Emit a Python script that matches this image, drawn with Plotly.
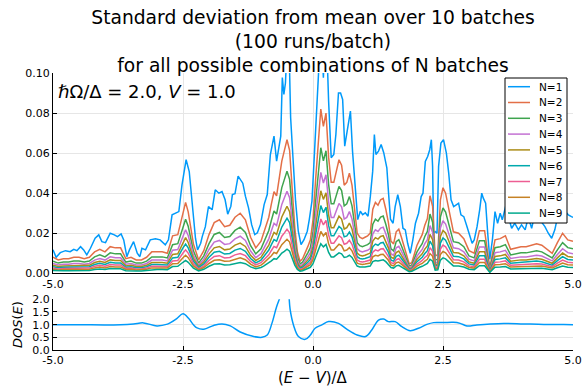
import plotly.graph_objects as go

FONT = "DejaVu Sans"

# ---------------- data (values in units of 1e-3) ----------------
E1 = [-5.00, -4.94, -4.86, -4.76, -4.67, -4.60, -4.54, -4.47, -4.41, -4.35, -4.28, -4.19, -4.12, -4.06, -3.99,
      -3.90, -3.82, -3.76, -3.69, -3.64, -3.58, -3.53, -3.45, -3.38, -3.33, -3.29, -3.22, -3.13, -3.03, -2.94,
      -2.84, -2.78, -2.71, -2.65, -2.58, -2.52, -2.44, -2.38, -2.33, -2.26, -2.22, -2.16, -2.13, -2.07, -2.01,
      -1.94, -1.88, -1.81, -1.75, -1.69, -1.64, -1.58, -1.55, -1.50, -1.44, -1.39, -1.35, -1.30, -1.24, -1.18,
      -1.12, -1.07, -1.01, -0.94, -0.88, -0.82, -0.78, -0.75, -0.70, -0.65, -0.62, -0.59, -0.56, -0.53, -0.49,
      -0.46, -0.43, -0.385, -0.335, -0.283, -0.23, -0.173, -0.11, -0.07, -0.02, 0.03, 0.08, 0.11, 0.15, 0.20,
      0.24, 0.27, 0.30, 0.35, 0.40, 0.44, 0.49, 0.53, 0.57, 0.61, 0.67, 0.72, 0.76, 0.815, 0.86,
      0.91, 0.955, 1.006, 1.058, 1.103, 1.148, 1.18, 1.21, 1.26, 1.31, 1.36, 1.42, 1.455, 1.49, 1.54,
      1.58, 1.63, 1.68, 1.73, 1.775, 1.82, 1.87, 1.92, 1.97, 2.03, 2.08, 2.115, 2.16, 2.205, 2.245,
      2.276, 2.30, 2.32, 2.35, 2.385, 2.415, 2.46, 2.51, 2.565, 2.61, 2.655, 2.705, 2.755, 2.80, 2.845,
      2.90, 2.95, 2.995, 3.06, 3.10, 3.155, 3.205, 3.245, 3.275, 3.32, 3.36, 3.40, 3.45, 3.50, 3.55,
      3.60, 3.64, 3.68, 3.72, 3.76, 3.82, 3.88, 3.95, 4.01, 4.08, 4.14, 4.205, 4.27, 4.36, 4.46,
      4.525, 4.59, 4.65, 4.72, 4.81, 4.91, 4.97, 5.00]
N1 = [11.7, 8.0, 10.3, 11.3, 10.8, 12.0, 11.3, 13.3, 11.7, 9.2, 12.5, 17.5, 19.2, 15.8, 15.3,
      20.0, 19.2, 18.3, 19.7, 16.7, 8.3, 11.7, 15.8, 10.0, 8.3, 12.5, 11.7, 16.7, 17.2, 16.7,
      14.2, 16.7, 29.2, 30.0, 30.8, 44.0, 56.7, 50.8, 36.7, 17.5, 11.7, 15.0, 18.3, 23.3, 33.3,
      31.7, 41.7, 40.0, 40.8, 36.7, 29.5, 33.5, 39.3, 39.8, 48.5, 46.8, 45.0, 38.5, 32.7, 24.3,
      19.3, 20.2, 24.3, 34.3, 39.3, 59.3, 65.2, 68.5, 56.0, 65.2, 68.5, 97.7, 89.3, 95.0, 118,
      112, 77.7, 57.7, 36.0, 21.0, 14.3, 16.8, 21, 27, 36, 61, 86, 105, 122, 97.7,
      125, 110, 86, 57.7, 59.3, 69.3, 90, 90, 86.8, 63.5, 73.5, 81, 61, 44.3, 26.8,
      31, 29.3, 30.2, 28.5, 38.5, 51, 69.3, 59.3, 61, 64.3, 60.2, 52.7, 39.3, 27, 25,
      33.3, 39.2, 33.3, 22.5, 21.7, 15, 10, 16.7, 25, 30, 38.3, 40, 55.8, 58.3, 61.7,
      66.7, 53.3, 20, 20.8, 20, 53.3, 65, 66.7, 60, 50, 36.7, 33.3, 34.2, 35, 29.2,
      28.3, 24.2, 20, 15, 16.7, 23.3, 31.7, 40, 37.5, 35, 20, 7, 16.7, 30.8, 25,
      30, 26.7, 30.8, 35, 28, 22.5, 25, 21.7, 24.2, 21.7, 28, 22.5, 30, 27, 23.3,
      20, 17.5, 21.7, 30, 32, 29.2, 28.3, 28]

E_LOW = [-5.0, -4.9, -4.8, -4.7, -4.6, -4.5, -4.4, -4.3, -4.2, -4.1, -4.0, -3.9, -3.8, -3.7, -3.6, -3.5,
         -3.4, -3.3, -3.2, -3.1, -3.0, -2.9, -2.8, -2.7, -2.6, -2.5, -2.45, -2.4, -2.3, -2.2, -2.1, -2.0,
         -1.9, -1.8, -1.7, -1.6, -1.5, -1.4, -1.3, -1.2, -1.1, -1.0,
         -0.95, -0.9, -0.85, -0.8, -0.75, -0.7, -0.65, -0.6, -0.55, -0.5, -0.45, -0.4, -0.35, -0.3,
         -0.25, -0.2, -0.15, -0.1, -0.05, 0.0, 0.05, 0.1, 0.15, 0.2, 0.25, 0.3, 0.35, 0.4, 0.45, 0.5,
         0.55, 0.6, 0.65, 0.7, 0.75, 0.8, 0.85, 0.9, 0.95, 1.0, 1.05, 1.1, 1.15, 1.2, 1.25, 1.3, 1.35,
         1.4, 1.45, 1.5, 1.55, 1.6, 1.65, 1.7, 1.75, 1.8, 1.85, 1.9, 1.95, 2.0, 2.05, 2.1, 2.15, 2.2,
         2.25, 2.3, 2.35, 2.4, 2.45, 2.5, 2.55, 2.6,
         2.7, 2.8, 2.9, 3.0, 3.1, 3.2, 3.3, 3.4, 3.5, 3.6, 3.7, 3.8, 3.9, 4.0, 4.1, 4.2, 4.3, 4.4, 4.5,
         4.6, 4.7, 4.8, 4.9, 5.0]

N2 = [8.0, 6.7, 7.3, 7.3, 8.0, 8.0, 7.3, 8.0, 10.7, 12.0, 10.7, 13.3, 12.7, 12.7, 7.3, 8.0, 6.7, 6.7, 8.0, 10.7,
      10.7, 10.7, 10.0, 18.7, 19.3, 30.7, 35.4, 30.7, 14.7, 6.7, 11.3, 19.3, 25.3, 26.7, 23.3, 24.0, 28.0, 30.0, 26.7, 18.0,
      12.7, 16.0,
      20.0, 24.7, 28.0, 34.7, 40.7, 38.7, 47.4, 56.0, 61.4, 66.7, 61.4, 43.4, 22.7, 10.7, 6.0, 7.3, 10.0, 13.3, 16.7, 26.7,
      46.7, 66.7, 82.0, 73.4, 80.0, 58.0, 45.4, 45.4, 50.7, 56.7, 54.0, 44.0, 45.4, 50.0, 44.0, 30.7, 20.0, 18.0, 17.3, 18.0,
      18.7, 20.0, 32.0, 35.4, 34.0, 36.7, 37.4, 32.0, 25.3, 16.0, 14.7, 20.7, 22.0, 18.0, 13.3, 8.0, 4.7, 5.3, 10.0, 14.0,
      16.7, 19.3, 24.0, 27.3, 38.7, 33.4, 8.7, 9.3, 36.7, 42.7, 40.0, 33.4,
      20.7, 20.0, 17.3, 11.3, 10.0, 21.3, 21.3, 2.7, 16.7, 17.3, 18.7, 12.0, 12.7, 13.3, 13.3, 14.0, 14.7, 14.0, 12.0, 10.0,
      15.3, 20.0, 16.7, 16.0]
N3 = [6.1, 5.1, 5.6, 5.6, 6.1, 6.1, 5.6, 6.1, 8.2, 9.2, 8.2, 10.2, 9.7, 9.7, 5.6, 6.1, 5.1, 5.1, 6.1, 8.2,
      8.2, 8.2, 7.7, 14.3, 14.8, 23.5, 27.0, 23.5, 11.2, 5.1, 8.7, 14.8, 19.4, 20.4, 17.9, 18.4, 21.4, 23.0, 20.4, 13.8,
      9.7, 12.2,
      15.3, 18.9, 21.4, 26.5, 31.1, 29.6, 36.2, 42.8, 46.9, 51.0, 46.9, 33.2, 17.3, 8.2, 4.6, 5.6, 7.7, 10.2, 12.8, 20.4,
      35.7, 51.0, 62.7, 56.1, 61.2, 44.4, 34.7, 34.7, 38.8, 43.4, 41.3, 33.7, 34.7, 38.3, 33.7, 23.5, 15.3, 13.8, 13.3, 13.8,
      14.3, 15.3, 24.5, 27.0, 26.0, 28.1, 28.6, 24.5, 19.4, 12.2, 11.2, 15.8, 16.8, 13.8, 10.2, 6.1, 3.6, 4.1, 7.7, 10.7,
      12.8, 14.8, 18.4, 20.9, 29.6, 25.5, 6.6, 7.1, 28.1, 32.6, 30.6, 25.5,
      15.8, 15.3, 13.3, 8.7, 7.7, 16.3, 16.3, 2.0, 12.8, 13.3, 14.3, 9.2, 9.7, 10.2, 10.2, 10.7, 11.2, 10.7, 9.2, 7.7,
      11.7, 15.3, 12.8, 12.2]
N4 = [4.9, 4.1, 4.5, 4.5, 4.9, 4.9, 4.5, 4.9, 6.6, 7.4, 6.6, 8.2, 7.8, 7.8, 4.5, 4.9, 4.1, 4.1, 4.9, 6.6,
      6.6, 6.6, 6.2, 11.5, 11.9, 18.9, 21.7, 18.9, 9.0, 4.1, 7.0, 11.9, 15.6, 16.4, 14.4, 14.8, 17.2, 18.5, 16.4, 11.1,
      7.8, 9.8,
      12.3, 15.2, 17.2, 21.3, 25.0, 23.8, 29.1, 34.4, 37.7, 41.0, 37.7, 26.7, 13.9, 6.6, 3.7, 4.5, 6.2, 8.2, 10.3, 16.4,
      28.7, 41.0, 50.4, 45.1, 49.2, 35.7, 27.9, 27.9, 31.2, 34.9, 33.2, 27.1, 27.9, 30.8, 27.1, 18.9, 12.3, 11.1, 10.7, 11.1,
      11.5, 12.3, 19.7, 21.7, 20.9, 22.6, 23.0, 19.7, 15.6, 9.8, 9.0, 12.7, 13.5, 11.1, 8.2, 4.9, 2.9, 3.3, 6.2, 8.6,
      10.3, 11.9, 14.8, 16.8, 23.8, 20.5, 5.3, 5.7, 22.6, 26.2, 24.6, 20.5,
      12.7, 12.3, 10.7, 7.0, 6.2, 13.1, 13.1, 1.6, 10.3, 10.7, 11.5, 7.4, 7.8, 8.2, 8.2, 8.6, 9.0, 8.6, 7.4, 6.2,
      9.4, 12.3, 10.3, 9.8]
N5 = [4.0, 3.4, 3.7, 3.7, 4.0, 4.0, 3.7, 4.0, 5.4, 6.0, 5.4, 6.7, 6.4, 6.4, 3.7, 4.0, 3.4, 3.4, 4.0, 5.4,
      5.4, 5.4, 5.0, 9.4, 9.7, 15.4, 17.8, 15.4, 7.4, 3.4, 5.7, 9.7, 12.7, 13.4, 11.7, 12.1, 14.1, 15.1, 13.4, 9.0,
      6.4, 8.0,
      10.1, 12.4, 14.1, 17.4, 20.4, 19.4, 23.8, 28.1, 30.8, 33.5, 30.8, 21.8, 11.4, 5.4, 3.0, 3.7, 5.0, 6.7, 8.4, 13.4,
      23.5, 33.5, 41.2, 36.9, 40.2, 29.1, 22.8, 22.8, 25.5, 28.5, 27.1, 22.1, 22.8, 25.1, 22.1, 15.4, 10.1, 9.0, 8.7, 9.0,
      9.4, 10.1, 16.1, 17.8, 17.1, 18.4, 18.8, 16.1, 12.7, 8.0, 7.4, 10.4, 11.1, 9.0, 6.7, 4.0, 2.3, 2.7, 5.0, 7.0,
      8.4, 9.7, 12.1, 13.7, 19.4, 16.8, 4.4, 4.7, 18.4, 21.4, 20.1, 16.8,
      10.4, 10.1, 8.7, 5.7, 5.0, 10.7, 10.7, 1.3, 8.4, 8.7, 9.4, 6.0, 6.4, 6.7, 6.7, 7.0, 7.4, 7.0, 6.0, 5.0,
      7.7, 10.1, 8.4, 8.0]
N6 = [3.3, 2.8, 3.0, 3.0, 3.3, 3.3, 3.0, 3.3, 4.4, 5.0, 4.4, 5.5, 5.2, 5.2, 3.0, 3.3, 2.8, 2.8, 3.3, 4.4,
      4.4, 4.4, 4.1, 7.7, 8.0, 12.7, 14.6, 12.7, 6.1, 2.8, 4.7, 8.0, 10.5, 11.0, 9.6, 9.9, 11.6, 12.4, 11.0, 7.4,
      5.2, 6.6,
      8.3, 10.2, 11.6, 14.3, 16.8, 16.0, 19.5, 23.1, 25.3, 27.5, 25.3, 17.9, 9.4, 4.4, 2.5, 3.0, 4.1, 5.5, 6.9, 11.0,
      19.3, 27.5, 33.8, 30.3, 33.0, 23.9, 18.7, 18.7, 20.9, 23.4, 22.3, 18.2, 18.7, 20.6, 18.2, 12.7, 8.3, 7.4, 7.2, 7.4,
      7.7, 8.3, 13.2, 14.6, 14.0, 15.1, 15.4, 13.2, 10.5, 6.6, 6.1, 8.5, 9.1, 7.4, 5.5, 3.3, 1.9, 2.2, 4.1, 5.8,
      6.9, 8.0, 9.9, 11.3, 16.0, 13.8, 3.6, 3.9, 15.1, 17.6, 16.5, 13.8,
      8.5, 8.3, 7.2, 4.7, 4.1, 8.8, 8.8, 1.1, 6.9, 7.2, 7.7, 5.0, 5.2, 5.5, 5.5, 5.8, 6.1, 5.8, 5.0, 4.1,
      6.3, 8.3, 6.9, 6.6]
N7 = [2.6, 2.2, 2.4, 2.4, 2.6, 2.6, 2.4, 2.6, 3.5, 4.0, 3.5, 4.4, 4.2, 4.2, 2.4, 2.6, 2.2, 2.2, 2.6, 3.5,
      3.5, 3.5, 3.3, 6.2, 6.4, 10.1, 11.7, 10.1, 4.8, 2.2, 3.7, 6.4, 8.4, 8.8, 7.7, 7.9, 9.2, 9.9, 8.8, 5.9,
      4.2, 5.3,
      6.6, 8.1, 9.2, 11.4, 13.4, 12.8, 15.6, 18.5, 20.2, 22.0, 20.2, 14.3, 7.5, 3.5, 2.0, 2.4, 3.3, 4.4, 5.5, 8.8,
      15.4, 22.0, 27.1, 24.2, 26.4, 19.1, 15.0, 15.0, 16.7, 18.7, 17.8, 14.5, 15.0, 16.5, 14.5, 10.1, 6.6, 5.9, 5.7, 5.9,
      6.2, 6.6, 10.6, 11.7, 11.2, 12.1, 12.3, 10.6, 8.4, 5.3, 4.8, 6.8, 7.3, 5.9, 4.4, 2.6, 1.5, 1.8, 3.3, 4.6,
      5.5, 6.4, 7.9, 9.0, 12.8, 11.0, 2.9, 3.1, 12.1, 14.1, 13.2, 11.0,
      6.8, 6.6, 5.7, 3.7, 3.3, 7.0, 7.0, 0.9, 5.5, 5.7, 6.2, 4.0, 4.2, 4.4, 4.4, 4.6, 4.8, 4.6, 4.0, 3.3,
      5.1, 6.6, 5.5, 5.3]
N8 = [2.0, 1.7, 1.9, 1.9, 2.0, 2.0, 1.9, 2.0, 2.7, 3.1, 2.7, 3.4, 3.2, 3.2, 1.9, 2.0, 1.7, 1.7, 2.0, 2.7,
      2.7, 2.7, 2.6, 4.8, 4.9, 7.8, 9.0, 7.8, 3.7, 1.7, 2.9, 4.9, 6.5, 6.8, 6.0, 6.1, 7.1, 7.7, 6.8, 4.6,
      3.2, 4.1,
      5.1, 6.3, 7.1, 8.8, 10.4, 9.9, 12.1, 14.3, 15.6, 17.0, 15.6, 11.1, 5.8, 2.7, 1.5, 1.9, 2.6, 3.4, 4.3, 6.8,
      11.9, 17.0, 20.9, 18.7, 20.4, 14.8, 11.6, 11.6, 12.9, 14.5, 13.8, 11.2, 11.6, 12.8, 11.2, 7.8, 5.1, 4.6, 4.4, 4.6,
      4.8, 5.1, 8.2, 9.0, 8.7, 9.4, 9.5, 8.2, 6.5, 4.1, 3.7, 5.3, 5.6, 4.6, 3.4, 2.0, 1.2, 1.4, 2.6, 3.6,
      4.3, 4.9, 6.1, 7.0, 9.9, 8.5, 2.2, 2.4, 9.4, 10.9, 10.2, 8.5,
      5.3, 5.1, 4.4, 2.9, 2.6, 5.4, 5.4, 0.7, 4.3, 4.4, 4.8, 3.1, 3.2, 3.4, 3.4, 3.6, 3.7, 3.6, 3.1, 2.6,
      3.9, 5.1, 4.3, 4.1]
N9 = [1.4, 1.2, 1.3, 1.3, 1.4, 1.4, 1.3, 1.4, 1.9, 2.2, 1.9, 2.4, 2.3, 2.3, 1.3, 1.4, 1.2, 1.2, 1.4, 1.9,
      1.9, 1.9, 1.8, 3.4, 3.5, 5.5, 6.4, 5.5, 2.6, 1.2, 2.0, 3.5, 4.6, 4.8, 4.2, 4.3, 5.0, 5.4, 4.8, 3.2,
      2.3, 2.9,
      3.6, 4.4, 5.0, 6.2, 7.3, 7.0, 8.5, 10.1, 11.0, 12.0, 11.0, 7.8, 4.1, 1.9, 1.1, 1.3, 1.8, 2.4, 3.0, 4.8,
      8.4, 12.0, 14.8, 13.2, 14.4, 10.4, 8.2, 8.2, 9.1, 10.2, 9.7, 7.9, 8.2, 9.0, 7.9, 5.5, 3.6, 3.2, 3.1, 3.2,
      3.4, 3.6, 5.8, 6.4, 6.1, 6.6, 6.7, 5.8, 4.6, 2.9, 2.6, 3.7, 4.0, 3.2, 2.4, 1.4, 0.8, 1.0, 1.8, 2.5,
      3.0, 3.5, 4.3, 4.9, 7.0, 6.0, 1.6, 1.7, 6.6, 7.7, 7.2, 6.0,
      3.7, 3.6, 3.1, 2.0, 1.8, 3.8, 3.8, 0.5, 3.0, 3.1, 3.4, 2.2, 2.3, 2.4, 2.4, 2.5, 2.6, 2.5, 2.2, 1.8,
      2.8, 3.6, 3.0, 2.9]

DOS_E = [-5.0, -4.5, -4.0, -3.7, -3.45, -3.26, -3.0, -2.8, -2.74, -2.62, -2.5, -2.39, -2.3, -2.23, -2.1,
         -1.91, -1.75, -1.59, -1.4, -1.14, -0.98, -0.88, -0.79, -0.70, -0.63, -0.55, -0.51, -0.47, -0.44,
         -0.37, -0.28, -0.15, -0.05, 0.04, 0.17, 0.30, 0.49, 0.65, 0.85, 1.01, 1.13, 1.26, 1.36, 1.45,
         1.58, 1.71, 1.87, 2.03, 2.19, 2.32, 2.51, 2.70, 2.83, 2.96, 3.15, 3.41, 3.67, 4.05, 4.44, 4.82, 5.0]
DOS = [1.0, 1.0, 0.99, 1.0, 1.03, 1.07, 0.95, 1.02, 1.08, 1.24, 1.43, 1.24, 1.0, 0.87, 0.82,
       0.97, 1.03, 0.95, 0.71, 0.53, 0.50, 0.59, 1.05, 1.71, 2.1, 2.6, 2.7, 2.3, 1.6,
       0.95, 0.53, 0.42, 0.59, 0.86, 0.99, 1.12, 1.05, 0.82, 0.59, 0.53, 0.79, 1.18, 1.22, 1.12,
       1.12, 0.92, 0.76, 0.86, 1.01, 1.08, 1.08, 1.09, 1.05, 0.95, 0.99, 1.03, 1.05, 1.03, 1.01, 1.01, 1.0]

NAMES = ["N=1", "N=2", "N=3", "N=4", "N=5", "N=6", "N=7", "N=8", "N=9"]
COLORS = ["#009AFA", "#E36F47", "#3EA44E", "#C371D2", "#AC8D18", "#00A9AD", "#ED5E93", "#C68225", "#00A98D"]
X_TICKS = [-5.0, -2.5, 0.0, 2.5, 5.0]
X_TICKTEXT = ["-5.0", "-2.5", "0.0", "2.5", "5.0"]
Y1_TICKS = [0.0, 0.02, 0.04, 0.06, 0.08, 0.10]
Y1_TICKTEXT = ["0.00", "0.02", "0.04", "0.06", "0.08", "0.10"]
Y2_TICKS = [0.0, 0.5, 1.0, 1.5, 2.0]
Y2_TICKTEXT = ["0.0", "0.5", "1.0", "1.5", "2.0"]

# ---------------- figure ----------------
fig = go.Figure()
series_x = [E1] + [E_LOW] * 8
series_y = [N1, N2, N3, N4, N5, N6, N7, N8, N9]
for xs, ys, name, col in zip(series_x, series_y, NAMES, COLORS):
    fig.add_trace(go.Scatter(x=xs, y=[v / 1000.0 for v in ys], mode="lines", name=name,
                             line=dict(color=col, width=1.5), xaxis="x", yaxis="y", showlegend=False))

fig.add_trace(go.Scatter(x=DOS_E, y=DOS, mode="lines", line=dict(color=COLORS[0], width=1.5, shape="spline"),
                         xaxis="x2", yaxis="y2", showlegend=False))

axis_common = dict(showline=True, linecolor="black", linewidth=1, ticks="inside", ticklen=4, tickcolor="black",
                   showgrid=True, gridcolor="#e6e6e6", gridwidth=1, zeroline=False, mirror=False,
                   automargin=False, tickfont=dict(family=FONT, size=11, color="black"))

# plot area: left 53, right 573, top 73, bottom 350 (px)
M_L, M_R, M_T, M_B = 53, 9, 73, 40
PH = 390 - M_T - M_B


def py2paper(py):
    return (390 - M_B - py) / PH


def px2paper(px):
    return (px - M_L) / (582 - M_L - M_R)


fig.update_layout(
    width=582, height=390,
    margin=dict(l=M_L, r=M_R, t=M_T, b=M_B, autoexpand=False),
    paper_bgcolor="white", plot_bgcolor="white",
    font=dict(family=FONT, color="black"),
    xaxis=dict(domain=[0, 1], range=[-5, 5], tickvals=X_TICKS, ticktext=X_TICKTEXT, anchor="y", **axis_common),
    yaxis=dict(domain=[py2paper(273.3), 1], range=[0, 0.1], tickvals=Y1_TICKS, ticktext=Y1_TICKTEXT,
               anchor="x", **axis_common),
    xaxis2=dict(domain=[0, 1], range=[-5, 5], tickvals=X_TICKS, ticktext=X_TICKTEXT, anchor="y2", **axis_common),
    yaxis2=dict(domain=[0, py2paper(299.3)], range=[0, 2], tickvals=Y2_TICKS, ticktext=Y2_TICKTEXT,
                anchor="x2", **axis_common),
    title=dict(text="Standard deviation from mean over 10 batches<br>(100 runs/batch)<br>"
                    "for all possible combinations of N batches",
               x=0.5, xref="paper", xanchor="center", y=1 - 23.5 / 390, yref="container", yanchor="middle",
               font=dict(family=FONT, size=18.7, color="black")),
)

annotations = [
    dict(text="<i>ℏ</i>Ω/Δ = 2.0, <i>V</i> = 1.0", x=px2paper(56), y=py2paper(91.7), xref="paper", yref="paper",
         xanchor="left", yanchor="middle", showarrow=False, font=dict(family=FONT, size=18, color="black")),
    dict(text="<i>DOS</i>(<i>E</i>)", x=px2paper(17), y=py2paper(325), xref="paper", yref="paper",
         xanchor="center", yanchor="middle", textangle=-90, showarrow=False,
         font=dict(family=FONT, size=13, color="black")),
    dict(text="(<i>E</i> − <i>V</i>)/Δ", x=0.5, y=py2paper(378), xref="paper", yref="paper",
         xanchor="center", yanchor="middle", showarrow=False, font=dict(family=FONT, size=15, color="black")),
]

# custom legend box
shapes = [dict(type="rect", xref="paper", yref="paper", x0=px2paper(505), x1=px2paper(567),
               y0=py2paper(223), y1=py2paper(78), line=dict(color="black", width=1), fillcolor="white",
               layer="above")]
for i, (name, col) in enumerate(zip(NAMES, COLORS)):
    yy = py2paper(86.7 + i * 15.8)
    shapes.append(dict(type="line", xref="paper", yref="paper", x0=px2paper(508), x1=px2paper(530),
                       y0=yy, y1=yy, line=dict(color=col, width=1.5), layer="above"))
    annotations.append(dict(text=name, x=px2paper(537), y=yy, xref="paper", yref="paper", xanchor="left",
                            yanchor="middle", showarrow=False, font=dict(family=FONT, size=10.5, color="black")))

fig.update_layout(shapes=shapes, annotations=annotations)
fig.write_html("out.html")
